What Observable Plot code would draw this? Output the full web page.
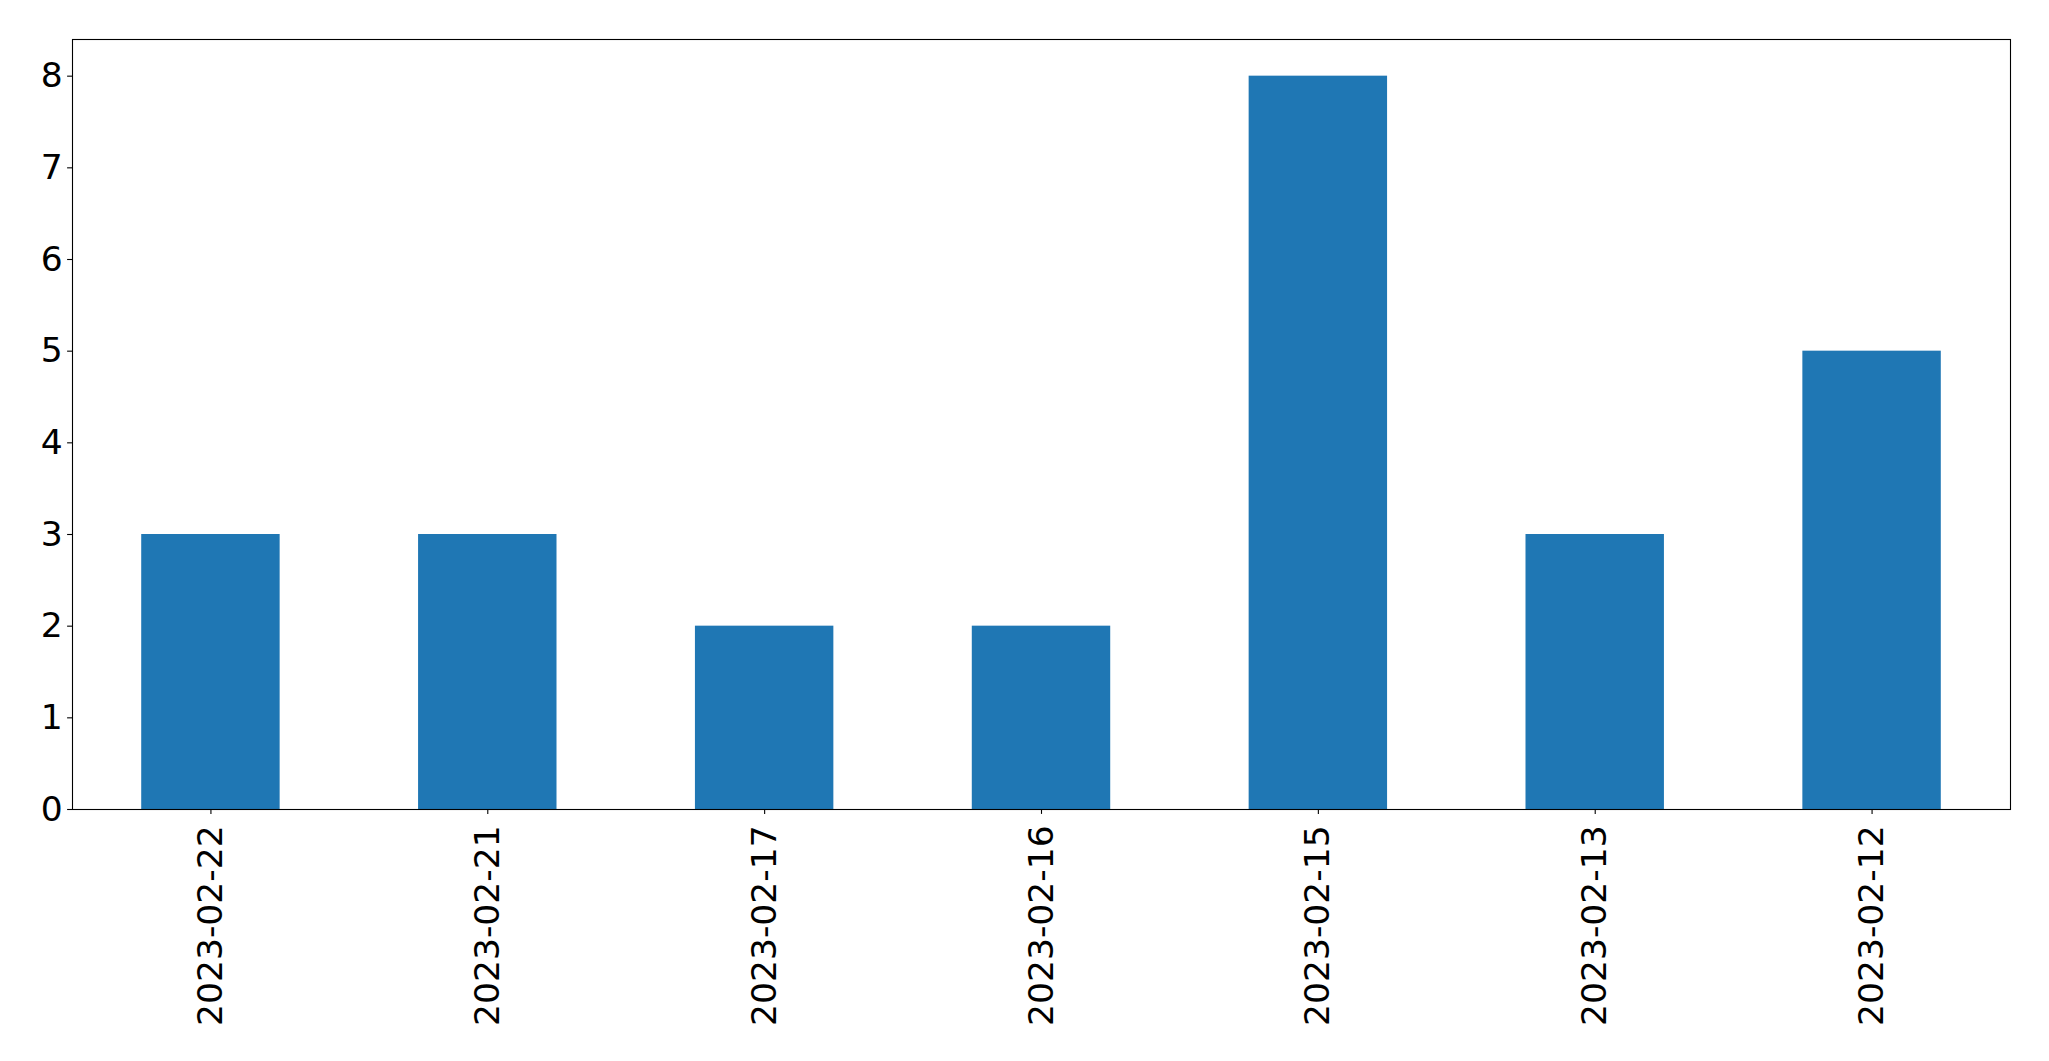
<!DOCTYPE html>
<html>
<head>
<meta charset="utf-8">
<script src="https://cdn.jsdelivr.net/npm/d3@7"></script>
<script src="https://cdn.jsdelivr.net/npm/@observablehq/plot@0.6"></script>
<style>
  html, body { margin: 0; padding: 0; background: #fff; }
  svg { display: block; }
</style>
</head>
<body>
<div id="chart"></div>
<script>
const dates = ["2023-02-22", "2023-02-21", "2023-02-17", "2023-02-16", "2023-02-15", "2023-02-13", "2023-02-12"];
const counts = [3, 3, 2, 2, 8, 3, 5];
const yTicks = [0, 1, 2, 3, 4, 5, 6, 7, 8];

const data = dates.map((d, i) => ({date: d, count: counts[i]}));

const chart = Plot.plot({
  width: 2049,
  height: 1061,
  marginLeft: 72,
  marginRight: 39,
  marginTop: 39,
  marginBottom: 252,
  style: {fontFamily: "DejaVu Sans", fontSize: "34.5px", color: "#000", background: "#fff"},
  x: {type: "band", domain: dates, paddingInner: 0.5, paddingOuter: 0.25, round: false, label: null},
  y: {domain: [0, 8.4], label: null},
  marks: [
    Plot.barY(data, {x: "date", y: "count", fill: "#1f77b4"}),
    Plot.frame({stroke: "#000", strokeWidth: 1.1}),
    Plot.axisY({ticks: yTicks, tickSize: 4.9, tickPadding: 5, fontSize: 34.5, label: null, strokeWidth: 1.1, tickFormat: d3.format("d")}),
    Plot.axisX({tickRotate: -90, tickSize: 4.9, tickPadding: 11, fontSize: 34.5, label: null, strokeWidth: 1.1})
  ]
});
document.getElementById("chart").appendChild(chart);
</script>
</body>
</html>
